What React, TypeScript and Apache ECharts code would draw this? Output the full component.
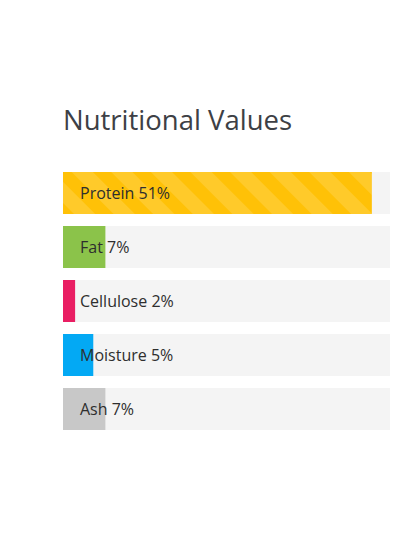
import React, { useEffect, useRef } from "react";
import * as echarts from "echarts";

const categories = ["Protein", "Fat", "Cellulose", "Moisture", "Ash"];
const values = [51, 7, 2, 5, 7];
const barColors = ["#FFC107", "#8BC34A", "#E91E63", "#03A9F4", "#C8C8C8"];
const axisMax = 54;

export default function App() {
  const ref = useRef<HTMLDivElement>(null);
  useEffect(() => {
    if (!ref.current) return;
    const chart = echarts.init(ref.current, null, { renderer: "svg" });
    chart.setOption({
      animation: false,
      backgroundColor: "#ffffff",
      title: {
        text: "Nutritional Values",
        left: 58,
        top: 100,
        textStyle: {
          fontFamily: "Open Sans",
          fontSize: 27.5,
          fontWeight: "normal",
          color: "#3d4045",
        },
      },
      grid: { left: 63, right: 30, top: 166, height: 270 },
      xAxis: { type: "value", min: 0, max: axisMax, show: false },
      yAxis: {
        type: "category",
        data: categories,
        inverse: true,
        show: false,
      },
      series: [
        {
          type: "bar",
          barWidth: 42,
          showBackground: true,
          backgroundStyle: { color: "#f4f4f4" },
          data: values.map((v, i) => ({
            value: v,
            itemStyle: {
              color: barColors[i],
              decal:
                i === 0
                  ? {
                      symbol: "rect",
                      symbolSize: 1,
                      dashArrayX: [1, 0],
                      dashArrayY: [15, 13],
                      rotation: Math.PI / 4,
                      color: "rgba(255,255,255,0.14)",
                    }
                  : "none",
            },
          })),
          label: {
            show: true,
            position: [17, "50%"],
            verticalAlign: "middle",
            align: "left",
            formatter: (p: any) => `${p.name} ${p.value}%`,
            fontFamily: "Open Sans",
            fontSize: 16,
            color: "#2e2e2e",
          },
        },
      ],
    });
    return () => chart.dispose();
  }, []);
  return (
    <div
      ref={ref}
      style={{ position: "absolute", left: 0, top: 0, width: 420, height: 560 }}
    />
  );
}
